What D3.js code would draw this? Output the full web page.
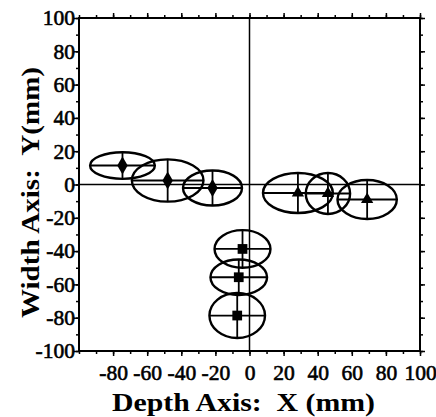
<!DOCTYPE html>
<html><head><meta charset="utf-8">
<script src="https://cdn.jsdelivr.net/npm/d3@7"></script>
<style>body{margin:0;background:#fff}</style>
</head><body>
<svg id="c" width="436" height="417"></svg>
<script>
const xTicks = [-80,-60,-40,-20,0,20,40,60,80,100];
const yTicks = [100,80,60,40,20,0,-20,-40,-60,-80,-100];
const groups = ["left","left","left","right","right","right","bottom","bottom","bottom"];
const cx = [-74.5,-48,-21.7,28.4,46,69,-4.1,-6.3,-7.2];
const cy = [11.4,2.4,-2.1,-5.1,-5.4,-9,-38.7,-55.7,-78.7];
const rx = [19,21,17.3,20.5,13,17.4,16.4,16.6,16.3];
const ry = [8,12.7,10.5,12,12.3,11.7,11.3,10.7,13.5];

const svg = d3.select("#c");
const x = d3.scaleLinear().domain([-100,100]).range([79,420]);
const y = d3.scaleLinear().domain([-100,100]).range([351,18]);
const font = "'Liberation Serif', 'Times New Roman', serif";
const fmt = d => String(d);

// zero lines
svg.append("line").attr("x1",x(0)).attr("x2",x(0)).attr("y1",y(100)).attr("y2",y(-100)).attr("stroke","#000").attr("stroke-width",1.5);
svg.append("line").attr("x1",x(-100)).attr("x2",x(100)).attr("y1",y(0)).attr("y2",y(0)).attr("stroke","#000").attr("stroke-width",1.5);

// ticks
const minor = d3.range(-100,101,10);
function axis(gen, tx, ty, size, vals){
  const g = svg.append("g").attr("transform",`translate(${tx},${ty})`)
    .call(gen.tickValues(vals).tickSize(size).tickFormat(""));
  g.select(".domain").remove();
  g.selectAll("line").attr("stroke","#000").attr("stroke-width",1.5);
  return g;
}
axis(d3.axisLeft(y),x(-100),0,3,minor);
axis(d3.axisRight(y),x(100),0,3,minor);
axis(d3.axisBottom(x),0,y(-100),3,minor);
axis(d3.axisTop(x),0,y(100),3,minor);
axis(d3.axisLeft(y),x(-100),0,5,yTicks);
axis(d3.axisRight(y),x(100),0,5,yTicks);
axis(d3.axisBottom(x),0,y(-100),5,xTicks);
axis(d3.axisTop(x),0,y(100),5,xTicks);

// labels
const gl = svg.append("g").attr("transform",`translate(${x(-100)},0)`)
  .call(d3.axisLeft(y).tickValues(yTicks).tickFormat(fmt).tickSize(4).tickPadding(0));
gl.select(".domain").remove();
gl.selectAll("line").remove();
gl.selectAll("text").attr("font-family",font).attr("font-size",21.5).attr("fill","#000")
  .attr("stroke","#000").attr("stroke-width",0.6);

const gb = svg.append("g").attr("transform",`translate(0,${y(-100)})`)
  .call(d3.axisBottom(x).tickValues(xTicks).tickFormat(fmt).tickSize(5).tickPadding(9));
gb.select(".domain").remove();
gb.selectAll("line").remove();
gb.selectAll("text").attr("font-family",font).attr("font-size",21.5).attr("fill","#000")
  .attr("stroke","#000").attr("stroke-width",0.6);

// frame
svg.append("rect").attr("x",x(-100)).attr("y",y(100)).attr("width",x(100)-x(-100)).attr("height",y(-100)-y(100))
  .attr("fill","none").attr("stroke","#000").attr("stroke-width",2);

// ellipses
const data = cx.map((d,i)=>({g:groups[i],x:d,y:cy[i],rx:rx[i],ry:ry[i]}));
const kx = (x(1)-x(0)), ky = (y(0)-y(1));
const e = svg.append("g").selectAll("g").data(data).join("g");
e.append("ellipse").attr("cx",d=>x(d.x)).attr("cy",d=>y(d.y))
  .attr("rx",d=>d.rx*kx).attr("ry",d=>d.ry*ky)
  .attr("fill","none").attr("stroke","#000").attr("stroke-width",2.4);
e.append("line").attr("x1",d=>x(d.x-d.rx)).attr("x2",d=>x(d.x+d.rx)).attr("y1",d=>y(d.y)).attr("y2",d=>y(d.y))
  .attr("stroke","#000").attr("stroke-width",1.8);
e.append("line").attr("x1",d=>x(d.x)).attr("x2",d=>x(d.x)).attr("y1",d=>y(d.y+d.ry)).attr("y2",d=>y(d.y-d.ry))
  .attr("stroke","#000").attr("stroke-width",1.8);
const sym = {left:d3.symbolDiamond,right:d3.symbolTriangle,bottom:d3.symbolSquare};
const sz = {left:95,right:65,bottom:95};
e.append("path").attr("transform",d=>`translate(${x(d.x)},${y(d.y)})`)
  .attr("d",d=>d3.symbol().type(sym[d.g]).size(sz[d.g])()).attr("fill","#000");

// titles
svg.append("text").attr("x",243.5).attr("y",411).attr("text-anchor","middle")
  .attr("font-family",font).attr("font-weight","bold").attr("font-size",25)
  .attr("textLength",263).attr("lengthAdjust","spacingAndGlyphs")
  .attr("xml:space","preserve").text("Depth Axis:  X (mm)");
svg.append("text").attr("transform","translate(39,192.5) rotate(-90)").attr("text-anchor","middle")
  .attr("font-family",font).attr("font-weight","bold").attr("font-size",25)
  .attr("textLength",251).attr("lengthAdjust","spacingAndGlyphs")
  .attr("xml:space","preserve").text("Width Axis:  Y(mm)");
</script>
</body></html>
